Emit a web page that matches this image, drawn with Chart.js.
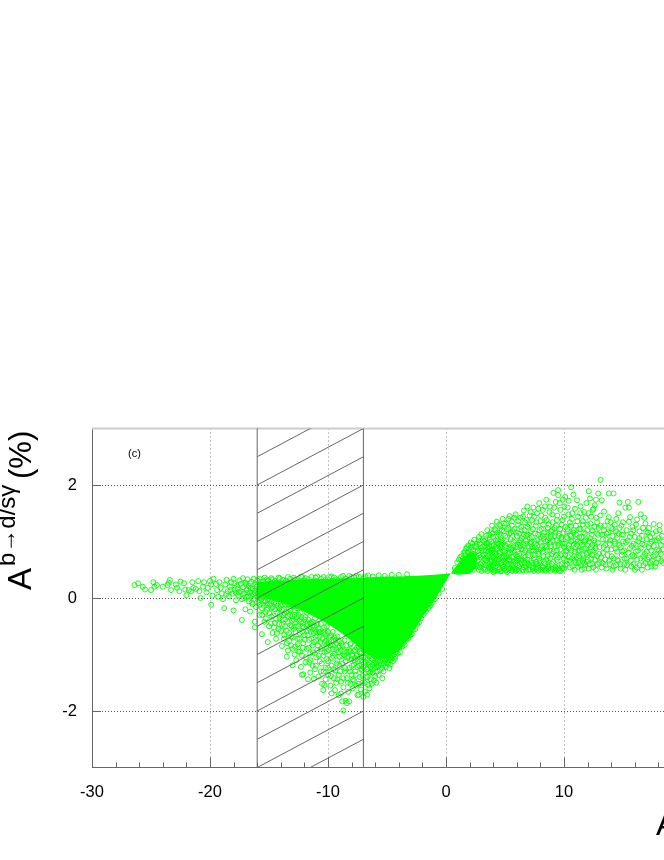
<!DOCTYPE html>
<html><head><meta charset="utf-8">
<style>html,body{margin:0;padding:0;background:#fff;overflow:hidden;width:664px;height:860px}
#w{position:absolute;left:0;top:0;width:664px;height:860px;overflow:hidden}canvas{display:block}</style>
<script src="https://cdn.jsdelivr.net/npm/chart.js@4"></script></head><body><div id="w"><canvas id="c" width="900" height="860"></canvas></div>
<script>
const xMajorTicks=[-30,-20,-10,0,10,20,30];
const xMinorTicks=[-28,-26,-24,-22,-18,-16,-14,-12,-8,-6,-4,-2,2,4,6,8,12,14,16,18];
const yMajorTicks=[-2,0,2];
const bandLeft=-16, bandRight=-7;
const hatchStarts=[3,2.5,2,1.5,1,0.5,0,-0.5,-1,-1.5,-2,-2.5,-3,-3.5];
const denseX=[-16,-14,-12,-10,-9,-8,-7,-6,-5,-4,-3,-2,-1,0,0.4,1,1.5,2,2.6];
const denseTop=[0.28,0.31,0.33,0.34,0.35,0.35,0.36,0.37,0.38,0.38,0.39,0.4,0.41,0.43,0.44,0.6,0.72,0.82,0.78];
const denseBottom=[0.05,-0.08,-0.24,-0.46,-0.6,-0.76,-0.95,-1.08,-1.06,-0.94,-0.68,-0.34,-0.05,0.3,0.44,0.41,0.42,0.43,0.55];
const tailPoints=[[-26.4,.23],[-26.1,.26],[-25.7,.2],[-25.5,.15],[-25.0,.14],[-24.8,.28],[-24.5,.23],[-24.7,.2],[-24.0,.2],[-23.6,.23],[-23.4,.32],[-23.5,.27],[-23.3,.14],[-22.9,.24],[-22.8,.18],[-22.5,.29],[-22.6,.12],[-22.2,.26],[-22.1,.15],[-22.0,.05],[-21.8,.14],[-21.6,.12],[-21.4,.18],[-21.5,.28],[-21.2,.16],[-21.0,.3],[-20.9,.12],[-20.8,.0],[-20.6,.2],[-20.5,.28],[-20.3,.1],[-20.2,.18],[-20.0,.3],[-19.9,.24],[-19.8,.04],[-19.9,-.12],[-19.7,.34],[-19.5,.25],[-19.4,.14],[-19.3,.02],[-19.2,.28],[-19.1,.18],[-19.0,.08],[-18.9,-.02],[-18.8,-.18],[-18.7,.24],[-18.6,.32],[-18.5,.12],[-18.4,.03],[-18.3,.2],[-18.2,.28],[-18.1,.08],[-18.0,-.22],[-18.0,.34],[-17.9,.15],[-17.8,-.04],[-17.7,.22],[-17.6,.05],[-17.5,.31],[-17.4,.12],[-17.3,-.39],[-17.3,-.02],[-17.2,.35],[-17.2,.19],[-17.1,.08],[-17.0,-.2],[-17.0,.27],[-16.9,.02],[-16.9,.14],[-16.8,.33],[-16.7,-.06],[-16.7,.21],[-16.6,-.24],[-16.6,.1],[-16.5,.29],[-16.5,.04],[-16.4,-.11],[-16.4,.17],[-16.3,.34],[-16.3,-.02],[-16.2,-.42],[-16.2,-.52],[-16.2,.09],[-16.1,.24],[-16.1,-.16],[-16.0,.31],[-16.0,.02],[-18.63,.07],[-18.27,.14],[-17.94,.26],[-17.66,.16],[-17.38,.25],[-17.12,.0],[-16.84,.09],[-16.62,.26],[-16.45,-.08],[-16.36,.07],[-16.18,.13],[-16.07,.2],[-17.55,.1],[-17.81,.09],[-16.93,.24],[-16.75,.03],[-16.55,.17]];
const wedgeUpperPoints=[[-15.9,.14],[-15.9,-.08],[-15.8,.34],[-15.8,-.3],[-15.7,.05],[-15.7,.22],[-15.6,-.64],[-15.6,-.18],[-15.5,.3],[-15.5,.1],[-15.4,-.04],[-15.4,-.42],[-15.3,.19],[-15.3,-.25],[-15.2,.33],[-15.2,-.12],[-15.1,-.78],[-15.1,.06],[-15.0,.25],[-15.0,-.5],[-14.9,-.03],[-14.9,.13],[-14.8,-.33],[-14.8,.35],[-14.7,-.62],[-14.7,-.16],[-14.6,.21],[-14.6,.02],[-14.5,-.44],[-14.5,.3],[-14.4,-.09],[-14.4,-.72],[-14.3,.11],[-14.3,-.26],[-14.2,.36],[-14.2,-.55],[-14.1,.04],[-14.1,-.36],[-14.0,.24],[-14.0,-.14],[-13.9,-.85],[-13.9,-.47],[-13.8,.32],[-13.8,-.05],[-13.7,-.66],[-13.7,-.27],[-13.6,.16],[-13.6,-.38],[-13.5,-1.04],[-13.5,-.58],[-13.4,.37],[-13.4,-.93],[-13.3,-.19],[-13.3,-.76],[-13.2,.27],[-13.2,-.48],[-13.1,-.11],[-13.1,-.68],[-13.0,-.9],[-13.0,-1.19],[-13.0,-.32],[-12.9,.36],[-12.9,-.55],[-12.8,-.86],[-12.8,-.22],[-12.7,-1.1],[-12.7,-.43],[-12.6,.3],[-12.6,-.72],[-12.5,-.95],[-12.5,-.3],[-12.4,-.62],[-12.4,-.15],[-12.3,.38],[-12.3,-1.22],[-12.2,-1.36],[-12.2,-1.02],[-12.2,-.5],[-12.1,-1.35],[-12.1,-.8],[-12.0,-.38],[-12.0,-.66],[-11.9,.35],[-11.9,-1.14],[-11.8,-.9],[-11.8,-.26],[-11.7,-1.44],[-11.7,-.58],[-11.6,-1.14],[-11.6,-.74],[-11.5,-1.32],[-11.5,-.98],[-11.4,.37],[-11.4,-.45],[-11.3,-.84],[-11.3,-1.2],[-11.2,-1.43],[-11.2,-.62],[-11.1,-1.26],[-11.1,-.36],[-11.0,-1.05],[-11.0,-.76],[-10.9,.38],[-10.9,-.92],[-10.8,-1.39],[-10.8,-.55],[-10.7,-1.12],[-10.7,-.68],[-10.6,-1.3],[-10.6,-.46],[-10.5,-.88],[-10.5,-1.52],[-10.4,-1.63],[-10.4,-1.02],[-10.3,-1.54],[-10.3,-.6],[-10.3,-.78],[-10.2,-1.24],[-10.2,-1.44],[-10.1,-.94],[-10.1,-.5],[-10.0,-1.12],[-10.0,-1.36],[-9.9,-.7],[-9.9,.37],[-9.8,-1.55],[-9.8,-.84],[-9.7,-1.69],[-9.7,-1.2],[-9.6,-1.02],[-9.6,-.6],[-9.5,-1.42],[-9.5,-.76],[-9.4,-1.63],[-9.4,-1.28],[-9.3,-.92],[-9.3,-1.5],[-9.2,-1.1],[-9.2,-.68],[-9.1,-1.36],[-9.1,-1.72],[-9.0,-.85],[-9.0,-1.2],[-8.9,-1.69],[-8.9,-1.48],[-8.8,-1.83],[-8.8,-1.02],[-8.7,-1.99],[-8.7,-1.58],[-8.6,-1.3],[-8.6,-.75],[-8.5,-1.82],[-8.5,-1.12],[-8.4,-1.86],[-8.4,-1.42],[-8.3,-.95],[-8.3,-1.66],[-8.2,-1.83],[-8.2,-1.24],[-8.1,-1.52],[-8.1,-.82],[-8.0,-1.08],[-8.0,-1.36],[-7.9,-1.6],[-7.9,-.7],[-7.8,-1.18],[-7.8,-1.46],[-7.7,-.92],[-7.7,-1.3],[-7.6,-1.55],[-7.6,-1.02],[-7.5,-1.72],[-7.5,-1.22],[-7.4,-1.71],[-7.4,-.86],[-7.3,-1.4],[-7.3,-1.12],[-7.2,-1.62],[-7.2,-.98],[-7.1,-1.28],[-7.1,-1.5],[-7.0,-1.05],[-7.0,-1.75],[-6.9,-1.66],[-6.9,-1.2],[-6.8,-1.4],[-6.8,-.95],[-6.7,-1.71],[-6.7,-1.1],[-6.6,-1.54],[-6.6,-1.3],[-6.5,-1.02],[-6.5,-1.6],[-6.4,-1.22],[-6.4,-1.44],[-6.3,-1.08],[-6.3,-1.52],[-6.2,-1.32],[-6.1,-1.15],[-6.1,-1.46],[-6.0,-1.38],[-6.0,-1.04],[-5.9,-1.5],[-5.9,-1.22],[-5.8,-1.12],[-5.7,-1.36],[-5.6,-1.05],[-5.6,-1.27],[-5.5,-1.18],[-5.4,-1.42],[-5.4,-1.08],[-5.3,-1.3],[-5.2,-1.03],[-5.1,-1.22],[-5.0,-1.14],[-4.9,-1.06],[-4.8,-1.24],[-4.7,-1.18],[-4.6,-1.02],[-4.5,-1.12],[-4.3,-1.04],[-4.1,-.98],[-3.9,-.96],[-3.7,-.86],[-3.5,-.83],[-3.2,-.72],[-2.9,-.64],[-2.6,-.55],[-2.3,-.44],[-1.9,-.3],[-1.5,-.18],[-1.2,-.09]];
const wedgeTopPoints=[[-13.8,.18],[-13.2,.34],[-12.5,.27],[-12.0,.31],[-11.2,.3],[-10.6,.34],[-10.2,.32],[-9.7,.38],[-9.3,.33],[-8.9,.37],[-8.5,.34],[-8.2,.39],[-7.8,.36],[-7.4,.38],[-7.0,.35],[-6.6,.4],[-6.2,.38],[-5.7,.4],[-5.2,.39],[-4.6,.41],[-4.0,.41],[-3.3,.42],[-15.64,.28],[-15.37,.36],[-15.06,.31],[-14.72,.33],[-14.38,.27],[-14.09,.35],[-13.55,.31],[-12.77,.33],[-12.18,.37],[-11.63,.33],[-11.05,.36],[-10.38,.37],[-9.48,.36],[-8.72,.39],[-8.03,.37],[-7.62,.39],[-6.85,.38]];
const wedgeFringePoints=[[-15.85,.01],[-15.76,-.12],[-15.62,-.02],[-15.58,-.3],[-15.44,-.14],[-15.33,-.06],[-15.27,-.36],[-15.18,-.21],[-15.09,-.03],[-14.97,-.27],[-14.91,-.12],[-14.83,-.45],[-14.76,-.06],[-14.64,-.31],[-14.58,-.52],[-14.47,-.2],[-14.41,-.37],[-14.33,-.62],[-14.26,-.14],[-14.15,-.46],[-14.06,-.28],[-13.97,-.58],[-13.91,-.21],[-13.83,-.38],[-13.74,-.72],[-13.64,-.5],[-13.56,-.25],[-13.48,-.8],[-13.39,-.42],[-13.29,-.62],[-13.22,-.3],[-13.14,-.84],[-13.07,-.5],[-12.98,-.7],[-12.91,-.38],[-12.82,-1.0],[-12.75,-.6],[-12.66,-.34],[-12.58,-.82],[-12.52,-.5],[-12.43,-.72],[-12.36,-.95],[-12.27,-.42],[-12.19,-.6],[-12.13,-.88],[-12.04,-.52],[-11.96,-.74],[-11.88,-1.05],[-11.81,-.46],[-11.73,-.66],[-11.65,-.88],[-11.57,-.54],[-11.49,-1.1],[-11.41,-.72],[-11.33,-.5],[-11.26,-.96],[-11.18,-.78],[-11.09,-.56],[-11.02,-1.2],[-10.94,-.66],[-10.86,-.84],[-10.78,-1.02],[-10.69,-.6],[-10.61,-.9],[-10.53,-1.16],[-10.46,-.72],[-10.37,-1.3],[-10.29,-.96],[-10.22,-.64],[-10.14,-1.08],[-10.06,-.82],[-9.98,-1.24],[-9.91,-.92],[-9.83,-.68],[-9.75,-1.38],[-9.67,-1.06],[-9.58,-.84],[-9.52,-1.26],[-9.44,-.98],[-9.36,-.74],[-9.27,-1.16],[-9.19,-1.44],[-9.12,-.88],[-9.04,-1.04],[-8.96,-1.3],[-8.87,-.8],[-8.79,-1.16],[-8.71,-1.42],[-8.62,-.94],[-8.55,-1.24],[-8.47,-.84],[-8.38,-1.06],[-8.31,-1.5],[-8.23,-.92],[-8.14,-1.3],[-8.06,-.8],[-7.97,-1.2],[-7.89,-1.44],[-7.81,-.94],[-7.72,-1.06],[-7.64,-1.36],[-7.56,-.88],[-7.47,-1.12],[-7.39,-1.52],[-7.31,-.96],[-7.22,-1.26],[-7.14,-1.04],[-7.06,-1.38],[-6.97,-.92],[-6.89,-1.5],[-6.81,-1.14],[-6.72,-.98],[-6.64,-1.4],[-6.56,-1.18],[-6.47,-1.32],[-6.39,-1.02],[-6.28,-1.26],[-6.17,-1.06],[-6.06,-1.24],[-5.94,-1.08],[-5.83,-1.3],[-5.72,-1.04],[-5.62,-1.16],[-5.47,-1.08],[-5.33,-1.18],[-5.17,-1.1],[-5.02,-1.02],[-4.85,-1.1],[-4.66,-1.06],[-4.42,-1.0],[-4.22,-.96],[-3.95,-.88],[-3.62,-.8],[-3.35,-.74],[-3.05,-.66],[-2.75,-.56],[-2.45,-.46],[-2.12,-.36],[-1.72,-.24],[-1.35,-.14],[-.95,-.02],[-.62,.08],[-.32,.16]];
const wedgeEdgePoints=[[-15.95,.08],[-15.72,.0],[-15.52,.02],[-15.35,.12],[-15.12,-.1],[-14.94,.05],[-14.78,-.18],[-14.55,-.08],[-14.36,.0],[-14.12,-.18],[-13.95,-.02],[-13.86,-.12],[-13.78,-.3],[-13.62,-.12],[-13.47,-.03],[-13.43,-.32],[-13.34,-.12],[-13.18,-.22],[-13.05,-.4],[-12.94,-.14],[-12.85,-.3],[-12.72,-.5],[-12.62,-.18],[-12.48,-.4],[-12.33,-.26],[-12.24,-.34],[-12.08,-.44],[-11.92,-.34],[-11.78,-.5],[-11.68,-.38],[-11.53,-.44],[-11.44,-.6],[-11.3,-.42],[-11.14,-.5],[-11.0,-.6],[-10.9,-.46],[-10.75,-.6],[-10.65,-.78],[-10.42,-.62],[-10.33,-.52],[-10.18,-.76],[-10.03,-.6],[-9.95,-.8],[-9.72,-.66],[-9.62,-.9],[-9.46,-.7],[-9.3,-.8],[-9.15,-.96],[-9.08,-.76],[-8.92,-.92],[-8.75,-.84],[-8.58,-1.02],[-8.42,-.96],[-8.26,-1.04],[-8.1,-.94],[-7.95,-1.02],[-7.75,-1.1],[-7.52,-1.0],[-7.35,-1.2],[-7.18,-1.1],[-7.02,-1.22],[-6.86,-1.06],[-6.7,-1.26],[-6.52,-1.14],[-6.36,-1.3],[-6.22,-1.18],[-6.03,-1.14],[-5.88,-1.16],[-5.76,-1.22],[-5.58,-1.12],[-5.42,-1.24],[-5.24,-1.16],[-5.08,-1.1],[-4.92,-1.16],[-4.72,-1.1],[-4.52,-1.06],[-4.34,-1.08]];
const rightPoints1=[[1.2,.72],[1.5,.8],[1.7,.88],[1.9,.93],[2.1,.98],[2.3,.85],[2.4,1.03],[2.6,.72],[2.6,.96],[2.8,1.08],[2.9,.6],[3.0,.84],[3.0,1.13],[3.1,1.02],[3.2,.53],[3.3,.7],[3.3,.92],[3.4,1.1],[3.5,1.2],[3.5,.62],[3.6,.82],[3.7,1.03],[3.7,.5],[3.8,.72],[3.8,1.16],[3.9,.92],[3.9,1.28],[4.0,.58],[4.0,1.08],[4.1,.8],[4.1,.48],[4.2,1.2],[4.2,.66],[4.3,.98],[4.3,1.35],[4.4,.54],[4.4,.88],[4.5,1.12],[4.5,.74],[4.6,1.27],[4.6,.47],[4.7,.62],[4.7,1.02],[4.8,.84],[4.8,1.4],[4.9,.56],[4.9,1.18],[5.0,.94],[5.0,.7],[5.1,1.32],[5.1,.49],[5.2,1.08],[5.2,.8],[5.3,.6],[5.3,1.24],[5.4,1.45],[5.4,.9],[5.5,.52],[5.5,1.15],[5.6,.72],[5.6,1.36],[5.7,1.0],[5.7,.58],[5.8,.84],[5.8,1.22],[5.9,.48],[5.9,1.48],[6.0,.66],[6.0,1.1],[6.1,.94],[6.1,1.3],[6.2,.54],[6.2,.78],[6.3,1.42],[6.3,1.02],[6.4,.62],[6.4,1.2],[6.5,.86],[6.5,.5],[6.6,1.55],[6.6,1.12],[6.7,.72],[6.7,1.34],[6.8,.96],[6.8,.57],[6.9,1.26],[6.9,1.62],[7.0,.8],[7.0,.5],[7.1,1.06],[7.1,1.46],[7.2,.66],[7.2,1.18],[7.3,.9],[7.3,1.38],[7.4,.54],[7.4,1.6],[7.5,.76],[7.5,1.0],[7.6,1.28],[7.6,.6],[7.7,1.5],[7.7,.86],[7.8,1.12],[7.8,.48],[7.9,1.68],[7.9,.7],[8.0,.98],[8.0,1.36],[8.1,.56],[8.1,1.22],[8.2,.82],[8.2,1.56],[8.3,1.05],[8.3,.64],[8.4,1.42],[8.4,.5],[8.5,1.74],[8.5,.9],[8.6,1.16],[8.6,.74],[8.7,1.3],[8.7,.58],[8.8,1.62],[8.8,.98],[8.9,.52],[8.9,1.08],[9.0,1.48],[9.0,.78],[9.1,1.86],[9.1,.64],[9.2,1.24],[9.2,.92],[9.3,1.7],[9.3,.55],[9.4,1.02],[9.4,1.38],[9.5,1.91],[9.5,.72],[9.5,1.82],[9.6,.48],[9.6,1.14],[9.7,1.56],[9.7,.86],[9.8,.6],[9.8,1.3],[9.9,1.74],[9.9,.96],[10.0,.52],[10.0,1.44],[10.1,1.79],[10.1,.76],[10.2,1.08],[10.2,.66],[10.3,1.22],[10.3,1.6],[10.4,1.72],[10.4,.88],[10.5,.54],[10.5,1.34],[10.6,1.96],[10.6,1.0],[10.7,.7],[10.7,1.5],[10.8,1.83],[10.8,1.16],[10.9,.5],[10.9,.82]];
const rightPoints2=[[11.0,1.28],[11.0,.62],[11.1,1.73],[11.1,.94],[11.2,1.44],[11.2,.55],[11.3,1.08],[11.3,.74],[11.4,1.62],[11.4,1.22],[11.5,.86],[11.5,.5],[11.6,1.36],[11.6,.66],[11.7,1.52],[11.7,1.0],[11.8,.58],[11.8,1.14],[11.9,.78],[11.9,1.68],[12.0,1.3],[12.0,.92],[12.1,1.89],[12.1,.52],[12.2,1.76],[12.2,1.06],[12.3,.7],[12.3,1.44],[12.4,.6],[12.4,1.2],[12.5,.84],[12.5,1.58],[12.6,1.64],[12.6,.98],[12.7,1.74],[12.7,.5],[12.8,1.34],[12.8,.74],[12.9,1.85],[12.9,1.12],[13.0,.62],[13.0,.9],[13.1,2.09],[13.1,1.28],[13.2,1.73],[13.2,.54],[13.3,1.04],[13.3,.8],[13.4,1.53],[13.4,1.2],[13.5,.68],[13.5,.94],[13.6,1.14],[13.6,.52],[13.7,1.36],[13.7,.76],[13.8,1.85],[13.8,1.43],[13.9,1.02],[13.9,.6],[14.0,1.24],[14.0,.86],[14.1,1.1],[14.1,.5],[14.2,1.85],[14.2,.7],[14.3,1.3],[14.3,.96],[14.4,1.18],[14.4,.58],[14.5,.82],[14.5,1.06],[14.6,1.5],[14.6,.66],[14.7,1.69],[14.7,1.24],[14.8,.9],[14.8,.52],[14.9,1.12],[14.9,.76],[15.0,1.34],[15.0,1.0],[15.1,.6],[15.1,.84],[15.2,1.6],[15.2,.5],[15.3,1.2],[15.3,.7],[15.4,1.7],[15.4,1.02],[15.5,1.6],[15.5,1.35],[15.6,1.43],[15.6,.88],[15.7,.56],[15.7,1.14],[15.8,.76],[15.8,1.26],[15.9,.96],[15.9,.6],[16.0,1.08],[16.0,.5],[16.1,1.3],[16.1,.82],[16.2,1.39],[16.2,.68],[16.3,1.7],[16.3,1.0],[16.4,1.18],[16.4,.58],[16.5,1.48],[16.5,.88],[16.6,.5],[16.6,1.1],[16.7,.74],[16.7,1.24],[16.8,1.42],[16.8,.94],[16.9,1.32],[16.9,.62],[17.0,1.04],[17.0,.82],[17.1,1.16],[17.1,.54],[17.2,.72],[17.2,1.24],[17.3,.96],[17.3,1.08],[17.4,.56],[17.4,.84],[17.5,1.14],[17.5,.66],[17.6,1.31],[17.6,.92],[17.7,1.02],[17.7,.76],[17.8,.62],[17.8,1.18],[17.9,.86],[18.0,1.06],[18.0,.7],[18.1,1.29],[18.1,1.2],[18.2,.94],[18.2,.78],[18.3,1.1],[18.4,1.0],[18.4,.62]];
const rightPoints3=[[6.2,.98],[6.4,.86],[6.6,.74],[6.8,1.1],[7.0,.92],[7.2,1.0],[7.4,.84],[7.6,.96],[7.8,.78],[8.0,.86],[8.2,1.1],[8.4,.92],[8.6,1.02],[8.8,.84],[9.0,1.2],[9.2,1.1],[9.4,.84],[9.6,.98],[9.8,1.08],[10.0,.9],[10.2,.84],[10.4,.72],[10.6,1.1],[10.8,.94],[11.0,1.04],[11.2,.84],[11.4,.98],[11.6,.76],[11.8,1.02],[12.0,.68],[12.2,.82],[12.4,.94],[4.7,.94],[4.9,.74],[5.1,.92],[5.3,.78],[5.5,.86],[5.7,.9],[5.9,.76],[4.2,.9],[4.4,1.02],[4.6,.82],[3.5,.9],[3.7,.76],[3.9,.66],[3.8,.56],[4.1,.62],[5.2,.66],[5.6,.5],[6.1,.58],[6.9,.68],[7.7,.6],[8.5,.68],[9.3,.76],[10.1,.58],[10.9,.66],[11.7,.62]];
const rightPoints4=[[2.27,.7],[2.44,.91],[2.53,.6],[2.71,.83],[2.77,.5],[2.86,.97],[2.94,.72],[3.06,.62],[3.13,.91],[3.18,.77],[3.24,1.0],[3.36,.58],[3.42,.84],[3.48,.72],[3.55,.98],[3.62,.54],[3.66,1.12],[3.73,.88],[3.77,.64],[3.84,1.0],[3.88,.8],[3.93,1.14],[3.97,.5],[4.04,.72],[4.07,.94],[4.13,1.22],[4.16,.55],[4.21,1.02],[4.27,.76],[4.33,.61],[4.36,1.16],[4.41,.96],[4.47,.68],[4.52,1.3],[4.56,.52],[4.61,.9],[4.64,1.08],[4.69,.72],[4.74,1.2],[4.78,.58],[4.83,.98],[4.87,.66],[4.92,1.32],[4.97,.82],[5.02,1.1],[5.06,.5],[5.12,.74],[5.15,1.22],[5.21,.58],[5.24,.96],[5.28,1.4],[5.34,.68],[5.38,1.14],[5.43,.8],[5.47,1.04],[5.52,.6],[5.57,1.28],[5.62,.88],[5.66,.54],[5.68,1.18],[5.73,.74],[5.78,1.42],[5.83,1.02],[5.87,.62],[5.92,.9],[5.96,1.16],[6.02,.5],[6.07,.82],[6.12,1.36],[6.16,.7],[6.22,1.14],[6.27,.6],[6.33,.92],[6.37,1.26],[6.43,1.06],[6.47,.68],[6.52,1.44],[6.56,.94],[6.62,.54],[6.66,1.2],[6.72,.84],[6.76,1.02],[6.83,1.38],[6.87,.62],[6.93,1.12],[6.97,.76],[7.03,1.3],[7.07,.58],[7.13,.96],[7.17,1.52],[7.23,.84],[7.27,1.08],[7.33,.52],[7.37,1.22],[7.43,.7],[7.47,1.44],[7.53,.9],[7.57,1.14],[7.63,.64],[7.67,1.34],[7.73,1.02],[7.77,.54],[7.83,1.58],[7.87,.82],[7.93,1.2],[7.97,.66],[8.03,1.08],[8.07,1.46],[8.13,.92],[8.17,.5],[8.23,1.3],[8.27,.74],[8.33,1.16],[8.37,1.62],[8.43,.6],[8.47,1.0],[8.53,1.38],[8.57,.84],[8.63,1.24],[8.67,.52],[8.73,1.06],[8.77,1.52],[8.83,.7],[8.87,1.18],[8.93,.92],[8.97,.6],[9.03,1.34],[9.07,1.02],[9.13,.82],[9.17,1.6],[9.23,.5],[9.27,1.16],[9.33,1.28],[9.37,.68],[9.43,1.46],[9.47,.94],[9.53,1.1],[9.57,.58],[9.63,1.68],[9.67,1.22],[9.73,.76],[9.77,1.04],[9.83,.52],[9.87,1.38],[9.93,1.14],[9.97,.7],[10.03,1.62],[10.07,.96],[10.13,1.26],[10.17,.82],[10.23,.6],[10.27,1.06],[10.33,1.18],[10.37,1.48],[10.43,.94],[10.47,.66],[10.53,1.12],[10.57,1.28],[10.63,.84],[10.67,1.4],[10.73,.56],[10.77,1.02],[10.83,1.2],[10.87,.74],[10.93,1.58],[10.97,.9]];
const rightPoints5=[[11.04,1.12],[11.08,.72],[11.14,1.36],[11.18,1.0],[11.24,.62],[11.28,1.22],[11.34,.84],[11.38,1.5],[11.44,.58],[11.48,1.08],[11.54,.94],[11.58,1.3],[11.64,.7],[11.68,1.16],[11.74,.52],[11.78,.88],[11.84,1.42],[11.88,1.04],[11.94,.64],[11.98,1.2],[12.04,.8],[12.08,1.5],[12.14,1.0],[12.18,.6],[12.24,1.32],[12.28,.9],[12.34,1.12],[12.38,.76],[12.44,1.56],[12.48,.54],[12.54,1.02],[12.58,1.26],[12.64,.68],[12.68,.88],[12.74,1.42],[12.78,1.14],[12.84,.6],[12.88,.98],[12.94,1.24],[12.98,.78],[13.06,1.46],[13.14,.72],[13.22,1.12],[13.28,.62],[13.36,.9],[13.44,1.28],[13.52,.58],[13.58,1.04],[13.66,.86],[13.74,1.16],[13.82,.66],[13.88,.96],[13.96,1.34],[14.04,.74],[14.12,1.22],[14.22,.56],[14.28,1.0],[14.36,.88],[14.44,1.4],[14.52,.68],[14.62,1.14],[14.68,.94],[14.78,.6],[14.86,1.28],[14.94,.82],[15.04,1.12],[15.14,.7],[15.24,.98],[15.34,.58],[15.44,.8],[15.58,1.08],[15.66,.66],[15.76,.92],[15.88,1.2],[15.96,.74],[16.08,.94],[16.18,.54],[16.28,.84],[16.38,1.06],[16.48,.7],[16.62,.96],[16.72,.58],[16.86,.78],[16.96,1.18],[17.06,.68],[17.18,.9],[17.32,.62],[17.44,1.0],[17.58,.74],[17.72,.56],[17.86,1.02],[18.06,.84],[18.24,.66],[18.38,.86]];
const rightNeckPoints=[[.75,.53],[.95,.63],[1.1,.68],[1.32,.74],[1.45,.7],[1.58,.82],[1.66,.76],[1.78,.9],[1.85,.8],[1.97,.86],[2.03,.7],[2.12,.9],[2.18,.6],[2.24,.96],[2.32,.78],[2.37,.5],[2.42,.68],[2.48,.84],[2.56,.92],[2.62,.56],[2.68,.66],[2.74,1.02],[2.82,.76],[2.88,.54],[2.96,.88],[3.02,.48],[3.08,.74],[3.15,.6],[3.21,.84],[3.28,.5],[3.34,1.04],[3.39,.66],[3.45,.96],[3.52,.48],[3.58,.74],[3.64,.92],[3.69,.6],[3.75,.52],[3.81,.84],[3.86,.68],[3.91,.58],[3.96,.86],[4.02,.46],[4.09,.68],[4.18,.78],[4.24,.48],[4.31,.86],[4.38,.64],[4.46,.5],[4.54,.8],[4.63,.62],[4.72,.48],[4.84,.72],[4.95,.52],[5.08,.62],[5.18,.46],[5.31,.52],[5.44,.66],[5.59,.48],[5.74,.64],[5.88,.52],[6.04,.74],[6.18,.48],[6.34,.66],[6.49,.5],[6.64,.62],[6.78,.48],[6.96,.6],[7.12,.5],[7.28,.62],[7.46,.48],[7.62,.52],[7.82,.58],[8.02,.5],[8.22,.54],[8.44,.48],[8.64,.56],[8.84,.48],[9.08,.52],[9.28,.48],[9.52,.52],[9.74,.48]];
const scatterData=[...tailPoints,...wedgeUpperPoints,...wedgeTopPoints,...wedgeFringePoints,...wedgeEdgePoints,...rightNeckPoints,...rightPoints1,...rightPoints2,...rightPoints3,...rightPoints4,...rightPoints5].map(p=>({x:p[0],y:p[1]}));
const line=(data,order)=>({type:'scatter',data,showLine:true,pointRadius:0,borderColor:'#666',borderWidth:1,order});
const axisMarks={id:'axisMarks',beforeDatasetsDraw(ch){
  const {ctx,chartArea:a,scales:{x,y}}=ch;ctx.save();ctx.strokeStyle='#666';ctx.lineWidth=1;ctx.beginPath();
  xMajorTicks.forEach(v=>{const p=Math.round(x.getPixelForValue(v))+.5;ctx.moveTo(p,a.bottom);ctx.lineTo(p,a.bottom-10)});
  xMinorTicks.forEach(v=>{const p=Math.round(x.getPixelForValue(v))+.5;ctx.moveTo(p,a.bottom);ctx.lineTo(p,a.bottom-5)});
  yMajorTicks.forEach(v=>{const p=Math.round(y.getPixelForValue(v))+.5;ctx.moveTo(a.left,p);ctx.lineTo(a.left+9,p)});
  ctx.stroke();ctx.strokeStyle='#ccc';ctx.lineWidth=2;ctx.beginPath();ctx.moveTo(a.left,a.top);ctx.lineTo(a.right,a.top);ctx.stroke();
  ctx.fillStyle='#00ff00';ctx.beginPath();
  denseX.forEach((v,i)=>{const px=x.getPixelForValue(v),py=y.getPixelForValue(denseTop[i]);i?ctx.lineTo(px,py):ctx.moveTo(px,py)});
  for(let i=denseX.length-1;i>=0;i--)ctx.lineTo(x.getPixelForValue(denseX[i]),y.getPixelForValue(denseBottom[i]));
  ctx.closePath();ctx.fill();
  ctx.restore();
},afterDraw(ch){
  const {ctx}=ch;ctx.save();ctx.fillStyle='#000';ctx.textBaseline='alphabetic';ctx.textAlign='left';
  ctx.font='11px "Liberation Sans"';ctx.fillText('(c)',128,457);
  ctx.font='33px "Liberation Sans"';ctx.fillText('A',656,835);
  const r=(t,px,xx,yy)=>{ctx.save();ctx.translate(xx,yy);ctx.rotate(-Math.PI/2);ctx.font=px+'px "Liberation Sans"';ctx.fillText(t,0,0);ctx.restore()};
  r('A',33,31,590);r('b→d/sγ',24,15,566);r('(%)',31,31,479);
  ctx.restore();
}};
new Chart(document.getElementById('c'),{
 type:'scatter',
 data:{datasets:[
  line([{x:bandLeft,y:-3},{x:bandLeft,y:3}],0),
  line([{x:bandRight,y:-3},{x:bandRight,y:3}],0),
  ...hatchStarts.map(s=>line([{x:bandLeft,y:s},{x:bandRight,y:s+1}],0)),
  {type:'scatter',data:scatterData,pointStyle:'circle',pointRadius:2.5,pointBorderWidth:0.9,pointBackgroundColor:'transparent',pointBorderColor:'#00ff00',order:1}
 ]},
 plugins:[axisMarks],
 options:{responsive:false,animation:false,devicePixelRatio:1,
  layout:{padding:{top:428.5,right:100,left:0,bottom:0}},
  plugins:{legend:{display:false},tooltip:{enabled:false}},
  scales:{
   x:{type:'linear',min:-30,max:30,afterBuildTicks:s=>{s.ticks=xMajorTicks.map(v=>({value:v}))},afterFit:s=>{s.height=92.5},
    grid:{color:'#888',drawTicks:false,lineWidth:1},border:{color:'#666',dash:[1,3]},
    ticks:{padding:15,autoSkip:false,maxRotation:0,color:'#000',font:{family:'"Liberation Sans"',size:16.5}}},
   y:{type:'linear',min:-3,max:3,afterBuildTicks:s=>{s.ticks=yMajorTicks.map(v=>({value:v}))},afterFit:s=>{s.width=92},
    grid:{color:'#555',drawTicks:false,lineWidth:1},border:{color:'#666',dash:[1,2]},
    ticks:{padding:15,color:'#000',font:{family:'"Liberation Sans"',size:16.5}}}
  }}
});
</script></body></html>
